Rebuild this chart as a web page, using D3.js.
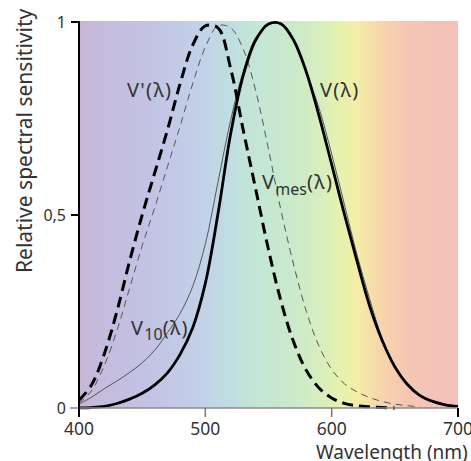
<!DOCTYPE html>
<html>
<head>
<meta charset="utf-8">
<script src="https://cdn.jsdelivr.net/npm/d3@7"></script>
<style>
  body { margin: 0; background: #fff; }
  svg { display: block; font-family: "Noto Sans", "Open Sans", sans-serif; }
</style>
</head>
<body>
<svg id="chart" width="471" height="461"></svg>
<script>
// wavelength grid (nm)
var wavelengths = [400, 410, 420, 430, 440, 450, 460, 470, 480, 490, 500, 510, 520, 530, 540, 550,
                   560, 570, 580, 590, 600, 610, 620, 630, 640, 650, 660, 670, 680, 690, 700];

// V(lambda) - photopic
var vPhotopic = [0.0004, 0.0012, 0.004, 0.0116, 0.023, 0.038, 0.06, 0.091, 0.139, 0.208, 0.323, 0.503,
                 0.71, 0.862, 0.954, 0.995, 0.995, 0.952, 0.87, 0.757, 0.631, 0.503, 0.381, 0.265,
                 0.175, 0.107, 0.061, 0.032, 0.017, 0.0082, 0.0041];

// V'(lambda) - scotopic
var vScotopic = [0.02, 0.06, 0.14, 0.25, 0.38, 0.5, 0.61, 0.72, 0.84, 0.94, 0.99, 0.985, 0.88, 0.72,
                 0.565, 0.41, 0.275, 0.17, 0.097, 0.052, 0.026, 0.012, 0.006, 0.003, 0.001, 0,
                 null, null, null, null, null];

// Vmes(lambda) - mesopic
var vMesopic = [0.012, 0.045, 0.11, 0.2, 0.31, 0.42, 0.52, 0.625, 0.73, 0.84, 0.935, 0.99, 0.985, 0.93,
                0.82, 0.67, 0.51, 0.37, 0.25, 0.16, 0.1, 0.063, 0.042, 0.027, 0.017, 0.01, 0.006,
                0.003, null, null, null];

// V10(lambda) - 10 degree observer
var v10 = [0.01, 0.028, 0.05, 0.07, 0.092, 0.117, 0.15, 0.195, 0.245, 0.315, 0.425, 0.585, 0.745, 0.872,
           0.96, 0.992, 0.997, 0.956, 0.869, 0.777, 0.658, 0.528, 0.398, 0.283, 0.18, 0.108, 0.06,
           0.032, 0.016, 0.0075, 0.0034];

var xTicks = [400, 500, 600, 700];
var yTicks = [0, 0.5, 1];
var yTickLabels = ["0", "0,5", "1"];

// spectrum background stops (wavelength, colour)
var spectrumNm = [400, 417, 457, 497, 520, 540, 572, 592, 605, 620, 636, 660, 700];
var spectrumColors = ["#c9b5d6", "#c5bbdd", "#c3c3e4", "#c2d1e8", "#bfdde2", "#c4e6d5", "#cbeac9",
                      "#d8eebd", "#e6f1af", "#f4eea7", "#f8d8aa", "#f5c6b4", "#f4c0bb"];

var svg = d3.select("#chart");

var x = d3.scaleLinear().domain([400, 700]).range([79, 458]);
var y = d3.scaleLinear().domain([0, 1]).range([408, 22]);

/* background gradient */
var defs = svg.append("defs");
var grad = defs.append("linearGradient")
    .attr("id", "spectrum")
    .attr("gradientUnits", "userSpaceOnUse")
    .attr("x1", x(400)).attr("x2", x(700))
    .attr("y1", 0).attr("y2", 0);
grad.selectAll("stop")
    .data(spectrumNm)
    .enter().append("stop")
    .attr("offset", function(d) { return (d - 400) / 300; })
    .attr("stop-color", function(d, i) { return spectrumColors[i]; });

svg.append("rect")
    .attr("x", x(400))
    .attr("y", y(1) - 1)
    .attr("width", x(700) - x(400))
    .attr("height", y(0) - y(1) + 1)
    .attr("fill", "url(#spectrum)");

/* curves */
function series(vals) {
  return wavelengths.map(function(w, i) { return { w: w, v: vals[i] }; });
}
var line = d3.line()
    .defined(function(d) { return d.v != null; })
    .x(function(d) { return x(d.w); })
    .y(function(d) { return y(d.v); })
    .curve(d3.curveCatmullRom.alpha(0.5));

var curves = [
  { data: vMesopic, width: 1, color: "#555", dash: "7,5" },
  { data: v10, width: 1, color: "#555", dash: null },
  { data: vScotopic, width: 3, color: "#000", dash: "11,6" },
  { data: vPhotopic, width: 2.8, color: "#000", dash: null }
];

svg.append("g").selectAll("path")
    .data(curves)
    .enter().append("path")
    .attr("d", function(d) { return line(series(d.data)); })
    .attr("fill", "none")
    .attr("stroke", function(d) { return d.color; })
    .attr("stroke-width", function(d) { return d.width; })
    .attr("stroke-dasharray", function(d) { return d.dash; });

/* axes */
svg.append("line")
    .attr("x1", 70).attr("x2", x(700))
    .attr("y1", y(0)).attr("y2", y(0))
    .attr("stroke", "#8a8a8a").attr("stroke-width", 1.5);

svg.append("line")
    .attr("x1", x(400)).attr("x2", x(400))
    .attr("y1", y(1) - 1).attr("y2", y(0) + 9)
    .attr("stroke", "#000").attr("stroke-width", 2);

svg.append("g").selectAll("line")
    .data(xTicks.slice(1))
    .enter().append("line")
    .attr("x1", function(d) { return x(d); }).attr("x2", function(d) { return x(d); })
    .attr("y1", y(0)).attr("y2", y(0) + 9)
    .attr("stroke", function(d) { return d == 700 ? "#000" : "#777"; })
    .attr("stroke-width", function(d) { return d == 700 ? 2 : 1.5; });

svg.append("g").selectAll("line")
    .data(yTicks.slice(1))
    .enter().append("line")
    .attr("x1", 71).attr("x2", x(400))
    .attr("y1", function(d) { return y(d); }).attr("y2", function(d) { return y(d); })
    .attr("stroke", "#000").attr("stroke-width", 2);

svg.append("g").selectAll("text")
    .data(xTicks)
    .enter().append("text")
    .attr("x", function(d) { return x(d); })
    .attr("y", 435)
    .attr("text-anchor", "middle")
    .attr("font-size", 17.5)
    .attr("fill", "#333")
    .text(function(d) { return d; });

svg.append("g").selectAll("text")
    .data(yTicks)
    .enter().append("text")
    .attr("x", 66)
    .attr("y", function(d) { return y(d) + 6; })
    .attr("text-anchor", "end")
    .attr("font-size", 16)
    .attr("fill", "#333")
    .text(function(d, i) { return yTickLabels[i]; });

/* axis titles */
svg.append("text")
    .attr("x", 316)
    .attr("y", 459)
    .attr("font-size", 19)
    .attr("fill", "#333")
    .text("Wavelength (nm)");

svg.append("text")
    .attr("transform", "translate(32,273) rotate(-90)")
    .attr("font-size", 21)
    .attr("fill", "#333")
    .text("Relative spectral sensitivity");

/* curve labels */
var lbl = svg.append("g").attr("fill", "#333").attr("font-size", 20).attr("letter-spacing", 1.3);

lbl.append("text").attr("x", 127).attr("y", 97).text("V'(λ)");
lbl.append("text").attr("x", 320).attr("y", 97).text("V(λ)");

var mes = lbl.append("text").attr("x", 262).attr("y", 189);
mes.append("tspan").text("V");
mes.append("tspan").attr("font-size", 16).attr("letter-spacing", 0).attr("dy", 6).text("mes");
mes.append("tspan").attr("dy", -6).text("(λ)");

var ten = lbl.append("text").attr("x", 131).attr("y", 335);
ten.append("tspan").text("V");
ten.append("tspan").attr("font-size", 16).attr("letter-spacing", 0).attr("dy", 5).text("10");
ten.append("tspan").attr("dy", -5).text("(λ)");
</script>
</body>
</html>
